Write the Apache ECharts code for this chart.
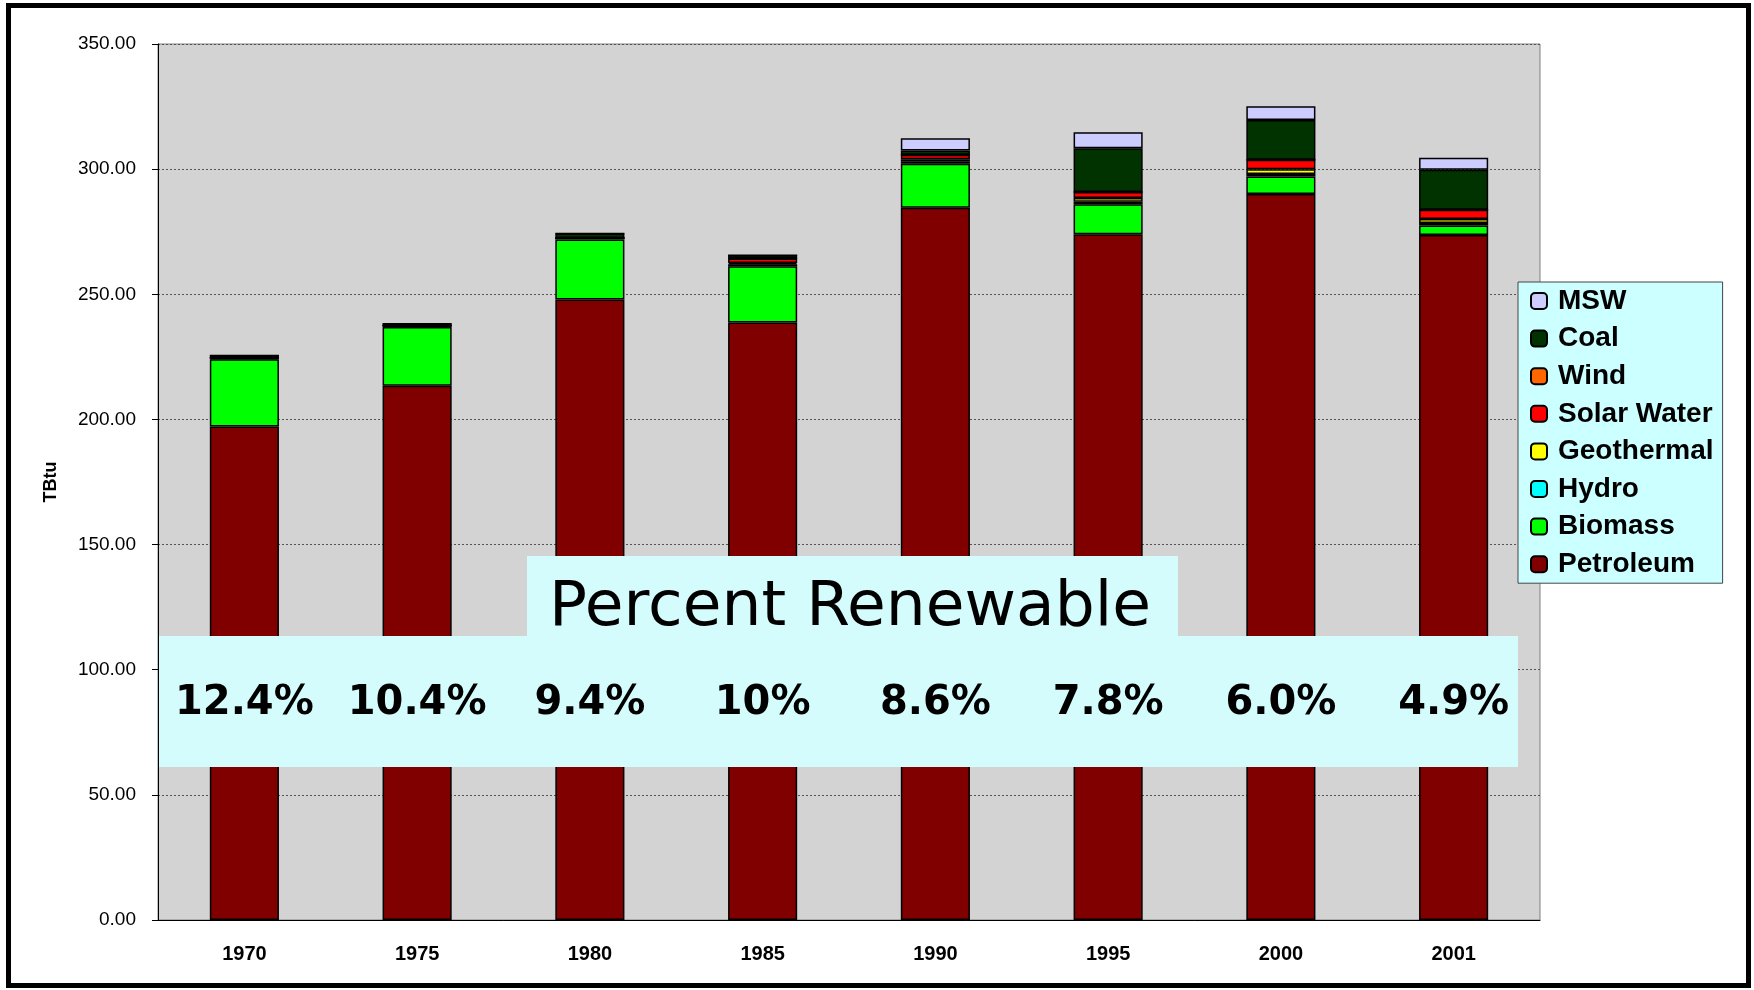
<!DOCTYPE html>
<html>
<head>
<meta charset="utf-8">
<script src="https://cdn.jsdelivr.net/npm/echarts@6/dist/echarts.min.js"></script>
<style>
  html, body { margin: 0; padding: 0; background: #fff; }
  #chart { width: 1754px; height: 990px; }
</style>
</head>
<body>
<div id="chart"></div>
<script>
// values, TBtu
const years       = ['1970', '1975', '1980', '1985', '1990', '1995', '2000', '2001'];
const petroleum   = [197.2, 213.5, 247.9, 238.7, 284.6, 274.0, 290.1, 273.7];
const biomass     = [26.8, 23.4, 24.0, 22.5, 17.6, 12.0, 7.0, 3.8];
const hydro       = [0.5, 0.5, 0.6, 0.8, 1.0, 1.0, 1.0, 1.0];
const geothermal  = [0, 0, 0, 0.5, 0.8, 1.5, 1.9, 1.6];
const solarWater  = [0, 0, 0, 1.8, 1.8, 2.4, 3.8, 3.7];
const wind        = [0, 0, 0, 0, 0, 0, 0, 0];
const coal        = [1.0, 0.8, 1.8, 1.3, 1.6, 17.4, 15.8, 16.0];
const msw         = [0, 0, 0, 0, 4.9, 6.4, 5.5, 4.8];
const pctRenewable = ['12.4%', '10.4%', '9.4%', '10%', '8.6%', '7.8%', '6.0%', '4.9%'];
const yTicks      = [0, 50, 100, 150, 200, 250, 300, 350];

const COLORS = {
  Petroleum: '#800000', Biomass: '#00ff00', Hydro: '#00ffff', Geothermal: '#ffff00',
  'Solar Water': '#ff0000', Wind: '#ff6600', Coal: '#003300', MSW: '#ccccff',
};

const stackOrder = [
  ['Petroleum', petroleum], ['Biomass', biomass], ['Hydro', hydro], ['Geothermal', geothermal],
  ['Solar Water', solarWater], ['Wind', wind], ['Coal', coal], ['MSW', msw],
];

const chart = echarts.init(document.getElementById('chart'), null, { renderer: 'canvas' });

const GRID = { left: 158, right: 214, top: 44, bottom: 70 };

chart.setOption({
  backgroundColor: '#ffffff',
  animation: false,
  grid: { ...GRID, show: true, backgroundColor: '#d3d3d3', borderColor: '#808080', borderWidth: 1 },
  legend: {
    orient: 'vertical',
    left: 1518, top: 282,
    data: stackOrder.map((s) => s[0]).reverse(),
    backgroundColor: '#ccffff',
    borderColor: '#444', borderWidth: 1,
    padding: [5, 9, 5, 12],
    itemWidth: 16, itemHeight: 16, itemGap: 9.6,
    textStyle: {
      fontFamily: 'Liberation Sans, Arial', fontWeight: 'bold', fontSize: 28, lineHeight: 28,
      color: '#000', padding: [0, 0, 0, 6],
    },
  },
  xAxis: {
    type: 'category', data: years,
    axisLine: { lineStyle: { color: '#000', width: 1 } },
    axisTick: { interval: 0, length: 6, lineStyle: { color: '#000' } },
    axisLabel: {
      color: '#000', fontFamily: 'Liberation Sans, Arial', fontWeight: 'bold',
      fontSize: 20, margin: 24,
    },
  },
  yAxis: {
    type: 'value', min: 0, max: 350, interval: 50,
    name: 'TBtu', nameLocation: 'middle', nameGap: 98, nameRotate: 90,
    nameTextStyle: { color: '#000', fontFamily: 'Liberation Sans, Arial', fontWeight: 'bold', fontSize: 18 },
    axisLine: { show: true, lineStyle: { color: '#000', width: 1 } },
    axisTick: { show: true, length: 6, lineStyle: { color: '#000' } },
    axisLabel: {
      color: '#000', fontFamily: 'Liberation Sans, Arial', fontSize: 19, margin: 22,
      formatter: (v) => yTicks.includes(v) ? v.toFixed(2) : '',
    },
    splitLine: { lineStyle: { color: '#555', type: [2, 2], width: 1 } },
  },
  series: stackOrder.map(([name, data]) => ({
    name, type: 'bar', stack: 'total', data,
    barWidth: '40%',
    itemStyle: { color: COLORS[name], borderColor: '#000', borderWidth: 1.5 },
    z: 2,
  })),
});

// percent renewable overlay, label x taken from the category axis
const labelTexts = years.map((y, i) => {
  const x = chart.convertToPixel({ xAxisIndex: 0 }, y);
  return {
    type: 'text', z: 60,
    x, y: 704,
    style: {
      text: pctRenewable[i], fill: '#000', align: 'center', verticalAlign: 'middle',
      font: 'bold 40px "DejaVu Sans", Verdana, sans-serif',
    },
  };
});

chart.setOption({
  graphic: [
    { type: 'rect', z: 50, shape: { x: 527, y: 556, width: 651, height: 81 }, style: { fill: '#d4fcfc' } },
    { type: 'rect', z: 50, shape: { x: 159, y: 636, width: 1359, height: 131 }, style: { fill: '#d4fcfc' } },
    {
      type: 'text', z: 60, x: 850, y: 609,
      style: {
        text: 'Percent Renewable', fill: '#000', align: 'center', verticalAlign: 'middle',
        font: '63px "DejaVu Sans", Verdana, sans-serif',
      },
    },
    ...labelTexts,
    { type: 'rect', z: 70, shape: { x: 8.5, y: 5.5, width: 1740, height: 980 }, style: { fill: 'none', stroke: '#000', lineWidth: 5 } },
  ],
});
</script>
</body>
</html>
